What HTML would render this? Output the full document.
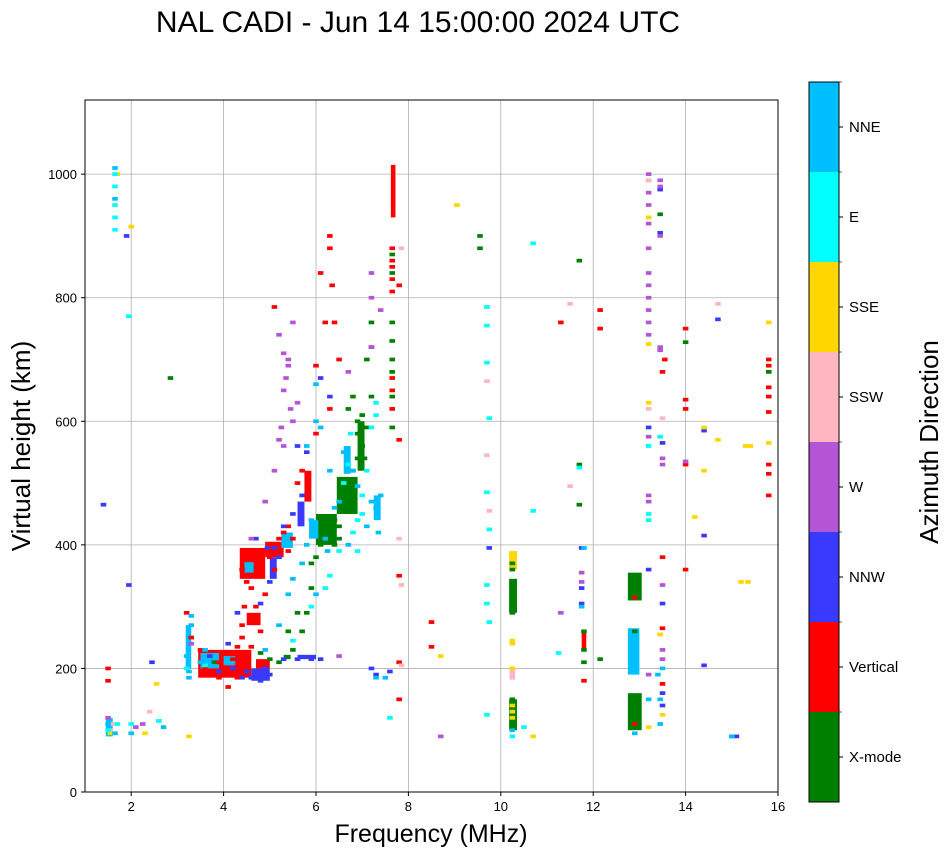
<!DOCTYPE html>
<html><head><meta charset="utf-8"><style>
body{margin:0;background:#fff;width:951px;height:856px;overflow:hidden}
svg{display:block;font-family:"Liberation Sans",sans-serif}
</style></head><body>
<svg id="chart" width="951" height="856">
<text x="418" y="32" font-size="30" text-anchor="middle">NAL CADI - Jun 14 15:00:00 2024 UTC</text>
<g id="grid"></g>
<g id="marks"></g>
<rect x="85" y="100" width="693" height="692" fill="none" stroke="#000" stroke-width="1"/>
<g id="axes"></g>
<text x="431" y="842" font-size="25" text-anchor="middle">Frequency (MHz)</text>
<text transform="translate(30,446) rotate(-90)" font-size="26" text-anchor="middle">Virtual height (km)</text>
<g id="cbar"></g>
<text transform="translate(938,442) rotate(-90)" font-size="26" text-anchor="middle">Azimuth Direction</text>
</svg>
<script>
const xTicks=[2,4,6,8,10,12,14,16];
const yTicks=[0,200,400,600,800,1000];
const cbLabels=["X-mode","Vertical","NNW","W","SSW","SSE","E","NNE"];
const cbColors=["#008000","#ff0000","#3a3aff","#b455d6","#ffb6c1","#ffd700","#00ffff","#00bfff"];
const greenF=[5.5,5.7,5.8,5.9,6.0,6.1,6.2,6.3,6.4,6.5,6.6,6.6,6.7,6.8,6.9,7.0,7.1,7.0,6.9,7.2,7.1,7.2,7.2,6.8,6.5,6.4,6.7,6.8,6.9,7.05,5.2,5.0,4.8,5.4,5.6,5.9,7.65,7.65,7.65,7.65,7.65,7.65,7.65,7.65,10.25,10.25,10.25,10.25,10.25,10.25,10.25,10.25,10.25,10.25,10.25,12.9,11.8,11.8,11.8,9.55,9.55,11.7,11.7,11.7,12.15,14,13.45,15.8,2.85,3.8];
const greenH=[230,260,290,330,380,400,410,420,440,430,460,480,500,520,540,560,590,610,600,640,700,720,760,470,410,400,620,640,580,540,210,215,225,260,290,370,590,640,700,730,760,870,840,680,110,130,150,290,300,310,320,330,340,360,370,260,230,260,210,900,880,530,465,860,215,728,935,680,670,210];
const redF=[1.5,1.5,3.2,3.3,3.5,3.6,3.7,3.8,3.9,4.0,4.1,4.2,4.2,4.3,4.4,4.4,4.45,4.5,4.4,4.5,4.6,4.7,4.7,4.8,4.9,5.0,5.1,5.2,5.3,5.4,4.6,4.8,5.1,5.6,5.7,6.0,6.1,6.2,6.3,6.3,6.35,6.3,6.4,6.5,6.0,7.65,7.65,7.65,7.65,7.8,7.8,7.8,8.5,8.5,7.8,7.8,11.3,12.15,12.15,11.8,12.9,12.9,13.5,13.5,13.5,13.55,13.5,14.0,14.0,14.0,14.0,14,15.8,15.8,15.8,15.8,15.8,15.8,15.8,15.8,3.9,4.3,4.1,4.9,4.6,5.4,5.5,7.65,7.65,7.65,7.65];
const redH=[200,180,290,250,230,200,190,195,210,200,225,190,215,235,250,270,300,340,360,390,380,350,300,370,390,380,360,410,420,390,235,260,785,500,520,580,840,760,900,880,820,620,760,700,690,880,650,810,860,820,570,350,275,235,150,210,760,780,750,180,110,315,380,265,175,700,680,750,635,620,360,530,700,690,655,640,615,530,515,480,185,185,170,320,330,430,410,620,670,830,850];
const blueF=[3.5,3.7,3.9,4.1,4.2,4.4,4.5,4.6,4.8,4.9,5.0,5.3,5.6,5.9,6.1,4.3,4.8,5.0,5.2,5.3,5.5,5.7,5.6,5.8,6.1,6.3,7.3,7.6,7.2,1.4,1.95,1.9,2.45,9.75,11.75,11.75,11.75,13.45,13.45,13.5,13.5,13.5,13.5,13.2,14.4,14.7,14.4,14.4,15.0,15.1,13.2,4.7,4.95,5.1];
const blueH=[210,220,195,240,200,185,195,185,180,200,190,215,215,215,215,290,305,340,380,430,450,480,560,550,670,640,190,195,200,465,335,900,210,395,395,330,305,975,905,565,305,160,140,590,585,765,415,205,90,90,360,410,395,395];
const purpleF=[5.2,5.3,5.4,5.3,5.5,5.2,5.6,5.1,4.9,5.5,5.3,6.7,7.2,7.4,7.2,7.2,11.3,11.75,11.75,13.2,13.2,13.2,13.2,13.2,13.2,13.2,13.2,13.2,13.2,13.2,13.2,13.2,13.2,13.2,13.45,13.45,13.45,13.45,13.45,13.5,13.5,13.5,13.5,13.5,13.2,14.0,8.7,2.1,6.5,1.5,2.25,3.3,4.6,5.35,5.45,5.25,5.4];
const purpleH=[740,710,690,650,600,570,630,520,470,760,560,680,840,780,720,800,290,355,340,1000,990,970,950,920,880,840,820,800,780,760,740,575,480,470,990,980,900,715,720,540,530,335,230,215,190,535,90,105,220,120,110,240,410,670,620,590,700];
const pinkF=[13.2,13.5,14.7,13.2,10.25,10.25,10.25,9.7,9.7,11.5,11.5,7.85,7.8,7.85,7.85,9.75,13.2,2.4,1.6,1.55,10.25];
const pinkH=[620,605,790,930,185,195,200,665,545,495,790,880,410,335,205,455,990,130,110,100,190];
const goldF=[10.25,10.25,10.25,10.25,10.25,10.25,10.7,9.05,8.7,13.2,13.2,13.2,13.2,13.5,14.4,14.4,14.7,15.3,15.4,15.8,15.8,14.2,15.2,15.35,1.7,2,2.55,3.25,2.3,1.55,13.45];
const goldH=[245,240,200,140,120,130,90,950,220,725,630,930,105,125,590,520,570,560,560,565,760,445,340,340,1000,915,175,90,95,95,255];
const cyanF=[1.65,1.65,1.65,1.65,1.65,1.95,5.9,6.2,6.3,6.5,6.6,6.7,7.0,7.1,7.2,7.3,6.8,6.9,7.0,7.3,6.9,9.7,9.7,9.7,9.75,9.7,9.75,9.7,9.75,9.7,9.7,10.7,10.5,11.25,11.7,13.2,13.2,13.2,13.45,1.5,2,2.6,3.2,10.7,10.25,3.6,5.5,7.6,1.7,6.75];
const cyanH=[980,950,930,910,1000,770,300,330,350,390,500,530,480,520,590,610,420,440,450,630,390,785,755,695,605,485,425,335,275,305,125,888,105,225,525,560,450,440,575,100,110,115,200,455,90,205,245,120,110,580];
const skyF=[1.65,1.65,3.2,3.3,3.3,3.25,3.25,3.5,3.6,4.9,5.2,5.4,5.5,5.7,5.8,6.0,6.2,6.4,6.5,6.8,6.9,7.2,7.3,7.35,7.4,6.0,6.1,5.8,6.3,6.6,5.9,6.0,7.5,7.3,7.1,13.4,13.2,13.45,13.45,15.0,1.5,2.7,1.65,2.0,11.8,12.9,13.5,11.75,10.25,6.25,6.7];
const skyH=[1010,960,220,270,285,195,185,210,230,230,270,320,345,370,400,320,410,460,470,520,495,470,460,420,480,600,590,560,520,550,440,660,185,185,430,190,150,150,110,90,110,105,95,95,395,95,200,300,100,390,400];
const seriesF=[greenF,redF,blueF,purpleF,pinkF,goldF,cyanF,skyF];
const seriesH=[greenH,redH,blueH,purpleH,pinkH,goldH,cyanH,skyH];
/* dense regions: frequency range, height range, colour index */
const blkF0=[3.45,3.5,4.0,4.6,4.7,4.35,4.45,5.0,4.9,5.25,6.0,5.85,6.45,6.6,6.9,5.6,5.75,7.25,7.62,10.18,10.18,10.18,12.75,12.75,12.75,3.18,4.5,1.45,11.75,5.3,5.6];
const blkF1=[4.6,3.9,4.25,5.0,5.0,4.9,4.65,5.15,5.3,5.5,6.45,6.05,6.9,6.75,7.05,5.75,5.9,7.4,7.72,10.35,10.35,10.35,13.05,13.05,13.0,3.3,4.8,1.6,11.85,5.45,6.0];
const blkH0=[185,200,205,180,200,345,355,345,380,395,400,410,450,515,520,430,470,440,930,290,100,360,100,310,190,200,270,90,230,215,215];
const blkH1=[230,225,220,200,215,395,372,380,405,420,450,440,510,560,600,470,520,480,1015,345,150,390,160,355,265,270,290,120,260,222,222];
const blkC=[1,7,7,2,1,1,7,2,1,7,0,7,0,7,0,2,1,7,1,0,0,5,0,0,7,7,1,7,1,0,2];

const NS="http://www.w3.org/2000/svg";
const X0=85,X1=778,Y0=792,Y1=100,XMIN=1,XMAX=16,YMIN=0,YMAX=1120;
function xs(f){return X0+(f-XMIN)/(XMAX-XMIN)*(X1-X0);}
function ys(h){return Y0-(h-YMIN)/(YMAX-YMIN)*(Y0-Y1);}
function mk(tag,attrs,parent){const e=document.createElementNS(NS,tag);for(const k in attrs)e.setAttribute(k,attrs[k]);parent.appendChild(e);return e;}
const grid=document.getElementById('grid'),axes=document.getElementById('axes'),marks=document.getElementById('marks'),cbar=document.getElementById('cbar');
xTicks.forEach(t=>{
  const x=xs(t);
  const g=mk('line',{x1:x,x2:x,y1:Y1,y2:Y0,stroke:'#b0b0b0','stroke-width':0.8},grid);
  
  
  const tk=mk('line',{x1:x,x2:x,y1:Y0,y2:Y0+4,stroke:'#000'},axes);
  
  
  const tl=mk('text',{x:x,y:Y0+19,'font-size':13,'text-anchor':'middle'},axes);tl.textContent=t;
  
  
});
yTicks.forEach(t=>{
  const y=ys(t);
  const g=mk('line',{x1:X0,x2:X1,y1:y,y2:y,stroke:'#b0b0b0','stroke-width':0.8},grid);
  
  
  const tk=mk('line',{x1:X0-4,x2:X0,y1:y,y2:y,stroke:'#000'},axes);
  
  
  const tl=mk('text',{x:X0-8,y:y+5,'font-size':13,'text-anchor':'end'},axes);tl.textContent=t;
  
  
});
blkF0.forEach((f0,i)=>{
  const x=xs(f0),y=ys(blkH1[i]);
  const r=mk('rect',{x:x,y:y,width:xs(blkF1[i])-x,height:ys(blkH0[i])-y,fill:cbColors[blkC[i]]},marks);
  
  
});
const MW=0.12,MH=6;
seriesF.forEach((fs,ci)=>{
  fs.forEach((f,i)=>{
    const h=seriesH[ci][i];
    const x=xs(f-MW/2),y=ys(h+MH/2);
    const r=mk('rect',{x:x,y:y,width:xs(f+MW/2)-x,height:ys(h-MH/2)-y,fill:cbColors[ci]},marks);
    
    
  });
});
const CX=809,CW=30,CT=82,CB=802,seg=(CB-CT)/cbColors.length;
cbColors.forEach((c,i)=>{
  const y=CB-(i+1)*seg;
  const r=mk('rect',{x:CX,y:y,width:CW,height:seg,fill:c},cbar);
  
  
  const tk=mk('line',{x1:CX+CW,x2:CX+CW+4,y1:y+seg/2,y2:y+seg/2,stroke:'#000'},cbar);
  
  
  const tk2=mk('line',{x1:CX+CW,x2:CX+CW+3,y1:y,y2:y,stroke:'#000','stroke-width':0.6},cbar);
  
  
  const tl=mk('text',{x:CX+CW+10,y:y+seg/2+5,'font-size':15},cbar);tl.textContent=cbLabels[i];
  
  
});
const fr=mk('rect',{x:CX,y:CT,width:CW,height:CB-CT,fill:'none',stroke:'#000'},cbar);


</script>
</body></html>
